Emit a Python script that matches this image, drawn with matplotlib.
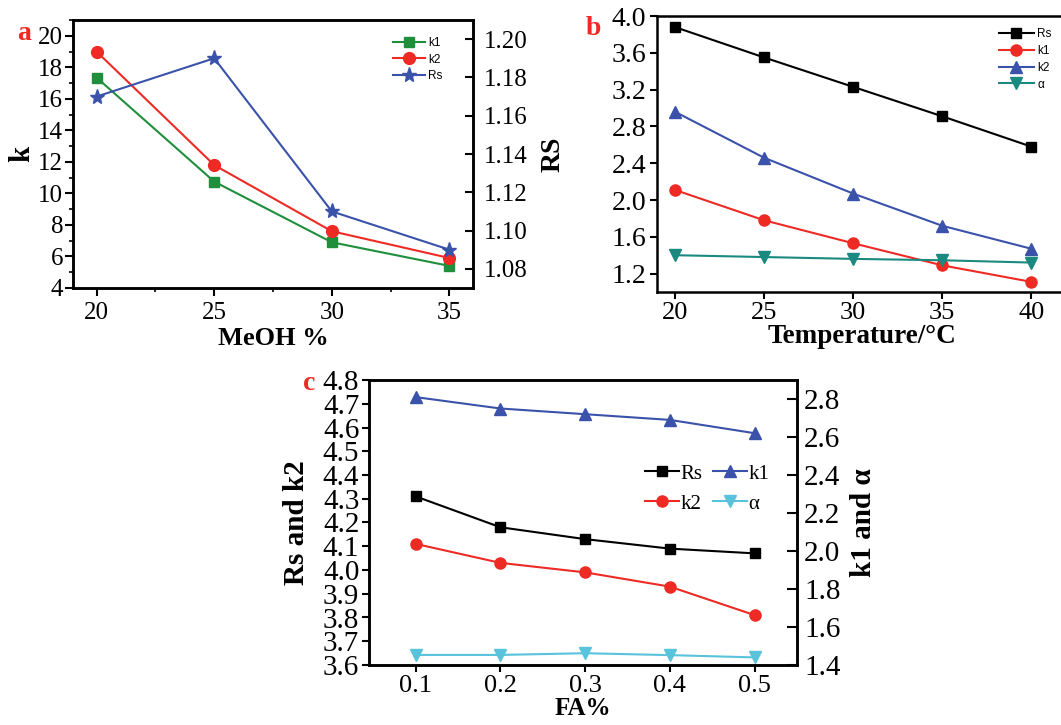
import matplotlib
matplotlib.use("Agg")
import matplotlib.pyplot as plt
from matplotlib.ticker import MultipleLocator, FormatStrFormatter

plt.rcParams['font.family'] = ['Liberation Serif', 'DejaVu Serif']

# panel a: MeOH %
meoh = [20, 25, 30, 35]
a_k1 = [17.35, 10.75, 6.9, 5.4]
a_k2 = [19.0, 11.8, 7.6, 5.9]
a_rs = [1.17, 1.19, 1.11, 1.09]

# panel b: temperature
temp = [20, 25, 30, 35, 40]
b_rs = [3.88, 3.55, 3.23, 2.91, 2.58]
b_k1 = [2.11, 1.78, 1.53, 1.29, 1.11]
b_k2 = [2.96, 2.46, 2.07, 1.72, 1.47]
b_alpha = [1.40, 1.38, 1.36, 1.345, 1.32]

# panel c: FA %
fa = [0.1, 0.2, 0.3, 0.4, 0.5]
c_rs = [4.31, 4.18, 4.13, 4.09, 4.07]
c_k2 = [4.11, 4.03, 3.99, 3.93, 3.81]
c_k1 = [2.81, 2.75, 2.72, 2.69, 2.62]
c_alpha = [1.453, 1.453, 1.462, 1.452, 1.44]

a_yticks = [4, 6, 8, 10, 12, 14, 16, 18, 20]
a_rticks = [1.08, 1.10, 1.12, 1.14, 1.16, 1.18, 1.20]
b_yticks = [1.2, 1.6, 2.0, 2.4, 2.8, 3.2, 3.6, 4.0]
c_yticks = [3.6, 3.7, 3.8, 3.9, 4.0, 4.1, 4.2, 4.3, 4.4, 4.5, 4.6, 4.7, 4.8]
c_rticks = [1.4, 1.6, 1.8, 2.0, 2.2, 2.4, 2.6, 2.8]

GREEN = '#1f8f3c'
RED = '#ee2a24'
BLUE = '#3a52aa'
TEAL = '#1a8a80'
CYAN = '#58c3da'

W, H = 1061, 725
fig = plt.figure(figsize=(W / 100, H / 100), dpi=100)


def box(l, t, r, b):
    return [l / W, 1 - b / H, (r - l) / W, (b - t) / H]


def frame(ax):
    for s in ax.spines.values():
        s.set_linewidth(1.8)


sans = {'family': 'Liberation Sans', 'size': 8.5}

# ---- panel a ----
ax_a = fig.add_axes(box(73, 20, 473, 288))
ax_a.plot(meoh, a_k1, color=GREEN, marker='s', ms=7, lw=1.5, label='k1')
ax_a.plot(meoh, a_k2, color=RED, marker='o', ms=8.5, lw=1.5, label='k2')
ax_a2 = ax_a.twinx()
ax_a2.plot(meoh, a_rs, color=BLUE, marker='*', ms=11, lw=1.5, label='Rs')

ax_a.set_xlim(19, 36)
ax_a.set_ylim(4, 21)
ax_a.set_xticks(meoh)
ax_a.xaxis.set_minor_locator(MultipleLocator(2.5))
ax_a.set_yticks(a_yticks)
ax_a.yaxis.set_minor_locator(MultipleLocator(1))
ax_a.tick_params(which='major', direction='out', length=6, width=1.5, labelsize=18, pad=1)
ax_a.tick_params(which='minor', direction='out', length=3, width=1.2)
ax_a.tick_params(axis='x', pad=4)
ax_a2.set_ylim(1.07, 1.21)
ax_a2.set_yticks(a_rticks)
ax_a2.yaxis.set_major_formatter(FormatStrFormatter('%.2f'))
ax_a2.tick_params(direction='in', length=6, width=1.5, labelsize=18, pad=8)
ax_a.set_xlabel('MeOH %', fontsize=19, fontweight='bold', labelpad=2)
ax_a.set_ylabel('k', fontsize=21, fontweight='bold', labelpad=2)
ax_a2.set_ylabel('RS', fontsize=20, fontweight='bold', labelpad=9)
frame(ax_a)
frame(ax_a2)
h1, l1 = ax_a.get_legend_handles_labels()
h2, l2 = ax_a2.get_legend_handles_labels()
ax_a2.legend(h1 + h2, l1 + l2, loc='upper left', bbox_to_anchor=(0.80, 0.935),
             frameon=False, prop=sans, handlelength=2.7, handletextpad=0.3,
             labelspacing=0.35, borderpad=0, borderaxespad=0)

# ---- panel b ----
ax_b = fig.add_axes(box(657, 16, 1067, 292))
ax_b.plot(temp, b_rs, color='black', marker='s', ms=7.5, lw=1.5, label='Rs')
ax_b.plot(temp, b_k1, color=RED, marker='o', ms=8, lw=1.5, label='k1')
ax_b.plot(temp, b_k2, color=BLUE, marker='^', ms=8.5, lw=1.5, label='k2')
ax_b.plot(temp, b_alpha, color=TEAL, marker='v', ms=8.5, lw=1.5, label='α')
ax_b.set_xlim(19, 42)
ax_b.set_ylim(1.0, 4.0)
ax_b.set_xticks(temp)
ax_b.set_yticks(b_yticks)
ax_b.yaxis.set_major_formatter(FormatStrFormatter('%.1f'))
ax_b.tick_params(direction='out', length=5, width=1.5, labelsize=20, pad=3)
ax_b.tick_params(axis='x', labelsize=19, pad=2)
ax_b.set_xlabel('Temperature/°C', fontsize=19.5, fontweight='bold', labelpad=0)
frame(ax_b)
ax_b.legend(loc='upper left', bbox_to_anchor=(0.835, 0.955), frameon=False,
            prop=sans, handlelength=2.9, handletextpad=0.3, labelspacing=0.4,
            borderpad=0, borderaxespad=0)

# ---- panel c ----
ax_c = fig.add_axes(box(369, 380, 797, 665))
ln_rs, = ax_c.plot(fa, c_rs, color='black', marker='s', ms=7.5, lw=1.5, label='Rs')
ln_k2, = ax_c.plot(fa, c_k2, color=RED, marker='o', ms=8, lw=1.5, label='k2')
ax_c2 = ax_c.twinx()
ln_k1, = ax_c2.plot(fa, c_k1, color=BLUE, marker='^', ms=8.5, lw=1.5, label='k1')
ln_al, = ax_c2.plot(fa, c_alpha, color=CYAN, marker='v', ms=8.5, lw=1.5, label='α')
ax_c.set_xlim(0.045, 0.55)
ax_c.set_ylim(3.6, 4.8)
ax_c.set_xticks(fa)
ax_c.set_yticks(c_yticks)
ax_c.yaxis.set_major_formatter(FormatStrFormatter('%.1f'))
ax_c.tick_params(direction='out', length=5, width=1.5, labelsize=21, pad=2)
ax_c.tick_params(axis='x', labelsize=19, pad=2)
ax_c2.set_ylim(1.4, 2.9)
ax_c2.set_yticks(c_rticks)
ax_c2.yaxis.set_major_formatter(FormatStrFormatter('%.1f'))
ax_c2.tick_params(direction='in', length=7, width=1.5, labelsize=21, pad=5)
ax_c.set_xlabel('FA%', fontsize=18, fontweight='bold', labelpad=0)
ax_c.set_ylabel('Rs and k2', fontsize=21, fontweight='bold', labelpad=9)
ax_c2.set_ylabel('k1 and α', fontsize=21, fontweight='bold', labelpad=7)
frame(ax_c)
frame(ax_c2)
ax_c2.legend([ln_rs, ln_k2, ln_k1, ln_al], ['Rs', 'k2', 'k1', 'α'], ncol=2,
             loc='upper left', bbox_to_anchor=(0.645, 0.705), frameon=False,
             fontsize=15, handlelength=1.65, handletextpad=0.05,
             labelspacing=0.5, columnspacing=0.5, borderpad=0, borderaxespad=0)

# panel letters
for x, y, s in [(17, 40, 'a'), (586, 35, 'b'), (303, 390, 'c')]:
    fig.text(x / W, 1 - y / H, s, color=RED, fontsize=20, fontweight='bold', va='baseline')

fig.savefig('out.png', dpi=100)
